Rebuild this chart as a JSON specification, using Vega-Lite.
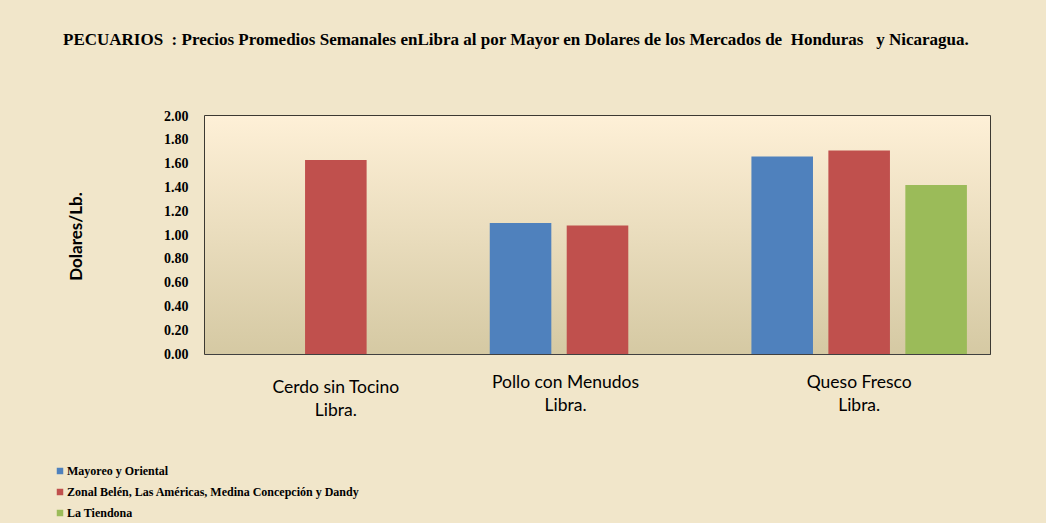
{
  "$schema": "https://vega.github.io/schema/vega-lite/v6.json",
  "width": 785,
  "height": 238,
  "autosize": {"type": "none"},
  "padding": {"left": 205, "top": 116, "right": 56, "bottom": 169},
  "background": "#F1E6CA",
  "title": {
    "text": "PECUARIOS\u00a0 : Precios Promedios Semanales enLibra al por Mayor en Dolares de los Mercados de\u00a0 Honduras\u00a0\u00a0 y Nicaragua.",
    "anchor": "start",
    "frame": "group",
    "dx": -142,
    "offset": 47,
    "baseline": "alphabetic",
    "font": "Liberation Serif",
    "fontSize": 17,
    "fontWeight": "bold",
    "color": "#000000"
  },
  "datasets": {
    "precios": [
      {"producto": "Cerdo sin Tocino|Libra.", "mercado": "Zonal Belén, Las Américas, Medina Concepción y Dandy", "precio": 1.63},
      {"producto": "Pollo con Menudos|Libra.", "mercado": "Mayoreo y Oriental", "precio": 1.1},
      {"producto": "Pollo con Menudos|Libra.", "mercado": "Zonal Belén, Las Américas, Medina Concepción y Dandy", "precio": 1.08},
      {"producto": "Queso Fresco|Libra.", "mercado": "Mayoreo y Oriental", "precio": 1.66},
      {"producto": "Queso Fresco|Libra.", "mercado": "Zonal Belén, Las Américas, Medina Concepción y Dandy", "precio": 1.71},
      {"producto": "Queso Fresco|Libra.", "mercado": "La Tiendona", "precio": 1.42}
    ]
  },
  "layer": [
    {
      "data": {"values": [{}]},
      "mark": {
        "type": "rect",
        "color": {
          "gradient": "linear",
          "x1": 0, "y1": 0, "x2": 0, "y2": 1,
          "stops": [
            {"offset": 0, "color": "#FEF0D7"},
            {"offset": 1, "color": "#D5C9A3"}
          ]
        }
      },
      "encoding": {
        "x": {"value": 0},
        "x2": {"value": "width"},
        "y": {"value": 0},
        "y2": {"value": "height"}
      }
    },
    {
      "data": {"name": "precios"},
      "mark": {"type": "bar"},
      "encoding": {
        "x": {
          "field": "producto",
          "type": "nominal",
          "scale": {
            "domain": ["Cerdo sin Tocino|Libra.", "Pollo con Menudos|Libra.", "Queso Fresco|Libra."],
            "paddingInner": 0,
            "paddingOuter": 0
          },
          "axis": {
            "title": null,
            "labelAngle": 0,
            "ticks": false,
            "domain": false,
            "grid": false,
            "labelExpr": "split(datum.label, '|')",
            "labelFont": "Lato",
            "labelFontSize": 17.5,
            "labelLineHeight": 23,
            "labelColor": "#000000",
            "labelBaseline": "top",
            "labelPadding": {"condition": {"test": "datum.value === 'Cerdo sin Tocino|Libra.'", "value": 24}, "value": 19},
            "labelOffset": {"condition": {"test": "datum.value === 'Pollo con Menudos|Libra.'", "value": -32}, "value": 0}
          }
        },
        "xOffset": {
          "field": "mercado",
          "type": "nominal",
          "scale": {
            "domain": ["Mayoreo y Oriental", "Zonal Belén, Las Américas, Medina Concepción y Dandy", "La Tiendona"],
            "paddingInner": 0.2,
            "paddingOuter": 0.3
          }
        },
        "y": {
          "field": "precio",
          "type": "quantitative",
          "scale": {"domain": [0, 2], "nice": false},
          "axis": {
            "values": [0, 0.2, 0.4, 0.6, 0.8, 1.0, 1.2, 1.4, 1.6, 1.8, 2.0],
            "format": ".2f",
            "grid": true,
            "gridColor": "#404040",
            "gridWidth": 1,
            "domain": false,
            "ticks": false,
            "tickSize": 0,
            "labelFont": "Liberation Serif",
            "labelFontWeight": "bold",
            "labelFontSize": 14,
            "labelColor": "#000000",
            "labelPadding": 17,
            "title": "Dolares/Lb.",
            "titleFont": "Lato",
            "titleFontSize": 17,
            "titleFontWeight": "bold",
            "titleColor": "#000000",
            "titleAngle": -90,
            "titleBaseline": "bottom",
            "titleAlign": "center",
            "titleX": -120,
            "titleY": 120
          }
        },
        "color": {
          "field": "mercado",
          "type": "nominal",
          "scale": {
            "domain": ["Mayoreo y Oriental", "Zonal Belén, Las Américas, Medina Concepción y Dandy", "La Tiendona"],
            "range": ["#4F81BD", "#C0504D", "#9BBB59"]
          },
          "legend": {
            "title": null,
            "orient": "none",
            "legendX": -151,
            "legendY": 349,
            "padding": 0,
            "symbolType": "square",
            "symbolSize": 42,
            "symbolStrokeWidth": 0,
            "labelFont": "Liberation Serif",
            "labelFontSize": 12,
            "labelFontWeight": "bold",
            "labelColor": "#000000",
            "labelOffset": 1,
            "rowPadding": 9,
            "labelLimit": 400
          }
        }
      }
    }
  ],
  "config": {
    "view": {"stroke": "#000000", "strokeWidth": 1.5}
  }
}
